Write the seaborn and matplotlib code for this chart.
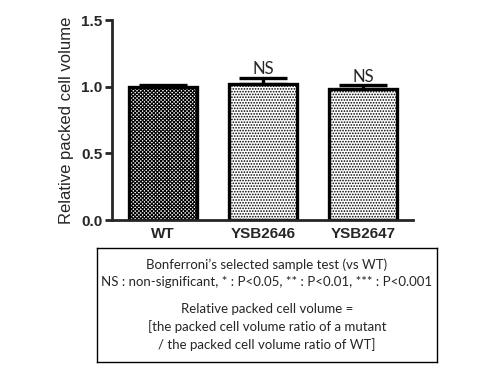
import matplotlib
matplotlib.use("Agg")
import matplotlib.pyplot as plt
import seaborn as sns
import pandas as pd
import numpy as np

categories = ["WT", "YSB2646", "YSB2647"]
values = [1.0, 1.02, 0.985]
errors = [0.01, 0.045, 0.025]
labels = ["", "NS", "NS"]
hatches = ["xxxxxxxxx", "......", "......"]
yticks = [0.0, 0.5, 1.0, 1.5]

sns.set_theme(style="ticks")
plt.rcParams["font.family"] = ["Liberation Sans", "DejaVu Sans"]
plt.rcParams["hatch.linewidth"] = 0.8

df = pd.DataFrame({"strain": categories, "value": values})

fig = plt.figure(figsize=(4.8, 3.7), dpi=100)
ax = fig.add_axes([112/480, 1-220/370, 301/480, 200/370])

sns.barplot(data=df, x="strain", y="value", ax=ax, color="white",
            edgecolor="black", linewidth=2.4, width=0.68, errorbar=None)
for patch, h in zip(ax.patches, hatches):
    patch.set_hatch(h)
    patch.set_facecolor("white")

xs = np.arange(len(categories))
ax.errorbar(xs, values, yerr=[np.zeros(len(values)), errors], fmt="none",
            ecolor="black", elinewidth=2.4, capsize=17, capthick=2.4, zorder=5)
for x, v, e, t in zip(xs, values, errors, labels):
    if t:
        ax.text(x, v + e + 0.005, t, ha="center", va="bottom", fontsize=12,
                family=["Lato", "DejaVu Sans"])

ax.set_ylim(0, 1.5)
ax.set_xlim(-0.51, 2.5)
ax.set_yticks(yticks)
ax.set_yticklabels([f"{t:.1f}" for t in yticks], fontweight="bold", fontsize=11)
ax.set_xticks(xs)
ax.set_xticklabels(categories, fontweight="bold", fontsize=11)
ax.tick_params(axis="x", length=0, pad=5)
ax.tick_params(axis="y", length=5, width=2, pad=2)
ax.set_xlabel("")
ax.set_ylabel("Relative packed cell volume", fontsize=12, labelpad=5)
for s in ["left", "bottom"]:
    ax.spines[s].set_linewidth(2)
sns.despine(ax=ax)

# note box
box_ax = fig.add_axes([97/480, 1-362/370, 340/480, 114/370])
box_ax.set_xticks([]); box_ax.set_yticks([])
for s in box_ax.spines.values():
    s.set_linewidth(1.0); s.set_color("black"); s.set_visible(True)
box_ax.set_xlim(0, 1); box_ax.set_ylim(0, 1)
fam = ["Lato", "DejaVu Sans"]
fs = 9.5
box_ax.text(0.5, 0.85, "Bonferroni\u2019s selected sample test (vs WT)", ha="center", va="center", fontsize=fs, family=fam)
box_ax.text(0.5, 0.70, "NS : non-significant, * : P<0.05, ** : P<0.01, *** : P<0.001", ha="center", va="center", fontsize=fs, family=fam)
box_ax.text(0.5, 0.465, "Relative packed cell volume =", ha="center", va="center", fontsize=fs, family=fam)
box_ax.text(0.5, 0.307, "[the packed cell volume ratio of a mutant", ha="center", va="center", fontsize=fs, family=fam)
box_ax.text(0.5, 0.149, "/ the packed cell volume ratio of WT]", ha="center", va="center", fontsize=fs, family=fam)

fig.savefig("out.png", dpi=100)
